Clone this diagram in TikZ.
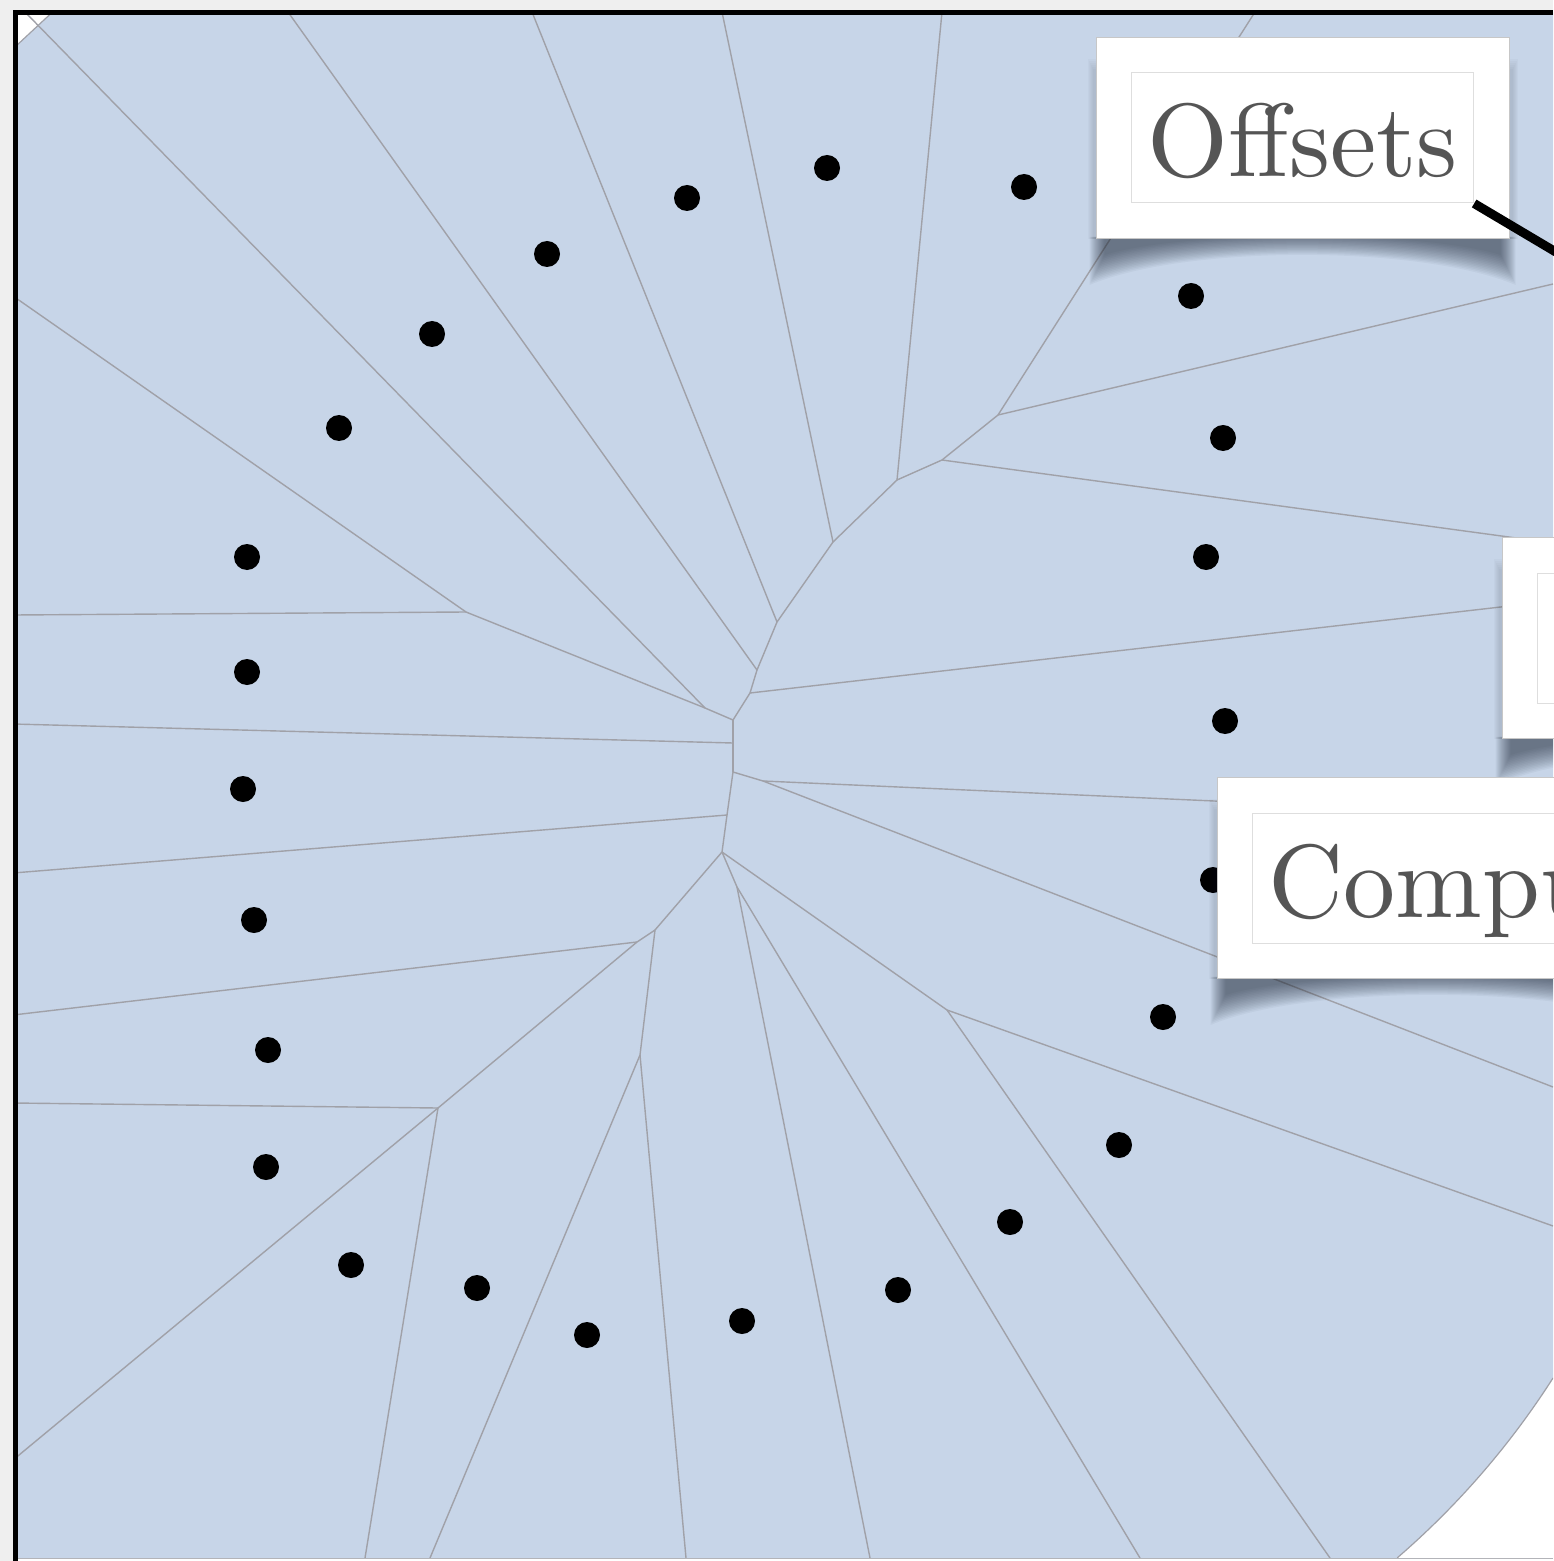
\documentclass[tikz,border=0pt]{standalone}
\usepackage{fontspec}
\usetikzlibrary{calc,fit}

\newfontfamily\tagfont{lmroman10-regular}[Extension=.otf]

\definecolor{pagegray}{RGB}{239,239,239}
\definecolor{cellblue}{RGB}{199,213,232}
\definecolor{edgegray}{RGB}{160,161,168}
\definecolor{tagink}{RGB}{85,85,85}
\definecolor{shadowink}{RGB}{25,35,50}
\definecolor{rimgray}{RGB}{222,222,222}

\pgfdeclarelayer{field}
\pgfdeclarelayer{shade}
\pgfdeclarelayer{card}
\pgfsetlayers{field,shade,card,main}

% soft "lifted" shadow under a card: faint sides plus curled bottom corners
\newcommand\liftedshadow[1]{%
  \foreach \d in {0,1,...,5}{%
    \fill[shadowink,opacity=0.025]
      ($(#1.north west)+(-8+\d,22+2*\d)$) rectangle ($(#1.south east)+(8-\d,0)$);
  }%
  \foreach \d in {0,1,...,15}{%
    \fill[shadowink,opacity=0.042]
      ($(#1.south west)+(-6+\d,-2)$) -- ($(#1.south east)+(6-\d,-2)$)
      -- ($(#1.south east)+(6-\d,46-2*\d)$)
      .. controls ($(#1.south east)+(-90,6-\d)$) and ($(#1.south west)+(90,6-\d)$) ..
      ($(#1.south west)+(-6+\d,46-2*\d)$) -- cycle;
  }}

\begin{document}
\begin{tikzpicture}[x=0.5pt,y=-0.5pt,
  edge/.style={draw=edgegray,line width=0.7pt},
  site/.style={circle,fill=black,inner sep=0pt,minimum size=13pt},
  tagbox/.style={font=\tagfont\fontsize{52}{62}\selectfont,text=tagink,fill=white,
    draw=rimgray,line width=0.5pt,inner xsep=8pt,inner ysep=0pt,
    text height=52pt,text depth=13pt,anchor=base west},
  cardbox/.style={fill=white,draw=black!22,line width=0.4pt,inner sep=17.5pt}]

\useasboundingbox (0,0) rectangle (1553,1561);

% ---------------- the Voronoi field ----------------
\begin{pgfonlayer}{field}
  \fill[pagegray] (0,0) rectangle (1553,1561);
  \begin{scope}
    \clip (15,12.5) rectangle (1553,1561);
    \fill[white] (15,12.5) rectangle (1553,1561);
    % cell area: clipped top-left corner, rounded off at the bottom right
    \fill[cellblue] (52,12.5) -- (1553,12.5) -- (1553,1378)
      arc[start angle=32.6,end angle=49.2,radius=824] -- (15,1558) -- (15,47) -- cycle;
    \draw[edgegray,line width=0.6pt] (52,12.5) -- (15,47);
    \draw[edgegray,line width=0.6pt] (1553,1378) arc[start angle=32.6,end angle=49.2,radius=824];

    % cell vertices
    \coordinate (A)  at (705,708);
    \coordinate (C1) at (733,720);
    \coordinate (G)  at (733,743);
    \coordinate (C2) at (750,693);
    \coordinate (C3) at (757,670);
    \coordinate (C4) at (777,622);
    \coordinate (C5) at (833,542);
    \coordinate (C6) at (897,480);
    \coordinate (C7) at (942,460);
    \coordinate (C8) at (998,415);
    \coordinate (D1) at (733,772);
    \coordinate (D2) at (763,781);
    \coordinate (D3) at (727,815);
    \coordinate (D4) at (722,852);
    \coordinate (E1) at (655,930);
    \coordinate (E2) at (637,942);
    \coordinate (E3) at (438,1108);
    \coordinate (E4) at (640,1055);
    \coordinate (F1) at (737,887);
    \coordinate (F2) at (947,1010);
    \coordinate (L1) at (466,612);
    % where the unbounded edges leave the window
    \coordinate (t1) at (25,12);
    \coordinate (t2) at (288,12);
    \coordinate (t3) at (532,12);
    \coordinate (t4) at (722,12);
    \coordinate (t5) at (942,12);
    \coordinate (t6) at (1255,12);
    \coordinate (l1) at (13,296);
    \coordinate (l2) at (13,615);
    \coordinate (l3) at (13,724);
    \coordinate (l4) at (13,873);
    \coordinate (l5) at (13,1015);
    \coordinate (l6) at (13,1103);
    \coordinate (l7) at (13,1460);
    \coordinate (b1) at (365,1558);
    \coordinate (b2) at (430,1558);
    \coordinate (b3) at (686,1558);
    \coordinate (b4) at (870,1558);
    \coordinate (b5) at (1140,1558);
    \coordinate (b6) at (1330,1558);
    \coordinate (r1) at (1553,284);
    \coordinate (r2) at (1553,543);
    \coordinate (r3) at (1553,601);
    \coordinate (r4) at (1553,816);
    \coordinate (r5) at (1553,1087);
    \coordinate (r6) at (1553,1226);

    \draw[edge] (t1) -- (A);
    \draw[edge] (L1) -- (A);
    \draw[edge] (A) -- (C1);
    \draw[edge] (L1) -- (l1);
    \draw[edge] (L1) -- (l2);
    \draw[edge] (G) -- (l3);
    \draw[edge] (C1) -- (G);
    \draw[edge] (G) -- (D1);
    \draw[edge] (C1) -- (C2);
    \draw[edge] (C2) -- (C3);
    \draw[edge] (C3) -- (C4);
    \draw[edge] (C4) -- (C5);
    \draw[edge] (C5) -- (C6);
    \draw[edge] (C6) -- (C7);
    \draw[edge] (C7) -- (C8);
    \draw[edge] (C3) -- (t2);
    \draw[edge] (C4) -- (t3);
    \draw[edge] (C5) -- (t4);
    \draw[edge] (C6) -- (t5);
    \draw[edge] (C8) -- (t6);
    \draw[edge] (C8) -- (r1);
    \draw[edge] (C7) -- (r2);
    \draw[edge] (C2) -- (r3);
    \draw[edge] (D1) -- (D2);
    \draw[edge] (D2) -- (r4);
    \draw[edge] (D2) -- (r5);
    \draw[edge] (D1) -- (D3);
    \draw[edge] (D3) -- (l4);
    \draw[edge] (D3) -- (D4);
    \draw[edge] (D4) -- (E1);
    \draw[edge] (D4) -- (F1);
    \draw[edge] (D4) -- (F2);
    \draw[edge] (E1) -- (E2);
    \draw[edge] (E1) -- (E4);
    \draw[edge] (E2) -- (l5);
    \draw[edge] (E2) -- (E3);
    \draw[edge] (E3) -- (l6);
    \draw[edge] (E3) -- (l7);
    \draw[edge] (E3) -- (b1);
    \draw[edge] (E4) -- (b2);
    \draw[edge] (E4) -- (b3);
    \draw[edge] (F1) -- (b4);
    \draw[edge] (F1) -- (b5);
    \draw[edge] (F2) -- (b6);
    \draw[edge] (F2) -- (r6);
  \end{scope}

  % lower rule and window frame
  \draw[edgegray!80,line width=0.6pt] (15,1558.5) -- (1553,1558.5);
  \draw[black,line width=2.5pt] (15,1561) -- (15,12.5) -- (1553,12.5);

  % sites
  \node[site] (s1)  at (827,168)  {};
  \node[site] (s2)  at (687,198)  {};
  \node[site] (s3)  at (547,254)  {};
  \node[site] (s4)  at (432,334)  {};
  \node[site] (s5)  at (339,428)  {};
  \node[site] (s6)  at (247,557)  {};
  \node[site] (s7)  at (247,672)  {};
  \node[site] (s8)  at (243,789)  {};
  \node[site] (s9)  at (254,920)  {};
  \node[site] (s10) at (268,1050) {};
  \node[site] (s11) at (266,1167) {};
  \node[site] (s12) at (351,1265) {};
  \node[site] (s13) at (477,1288) {};
  \node[site] (s14) at (587,1335) {};
  \node[site] (s15) at (742,1321) {};
  \node[site] (s16) at (898,1290) {};
  \node[site] (s17) at (1010,1222) {};
  \node[site] (s18) at (1119,1145) {};
  \node[site] (s19) at (1163,1017) {};
  \node[site] (s20) at (1213,880)  {};
  \node[site] (s21) at (1225,721)  {};
  \node[site] (s22) at (1206,557)  {};
  \node[site] (s23) at (1223,438)  {};
  \node[site] (s24) at (1191,296)  {};
  \node[site] (s25) at (1024,187)  {};
\end{pgfonlayer}

% ---------------- label cards ----------------
\node[tagbox] (offsets) at (1131,177) {Offsets};
\node[tagbox] (compu)   at (1252,917) {Compu};
\node[tagbox,minimum width=150pt] (sidetag) at (1537,677) {};

\begin{pgfonlayer}{card}
  \node[cardbox,fit=(offsets)] (offsetscard) {};
  \node[cardbox,fit=(compu)]   (compucard)   {};
  \node[cardbox,fit=(sidetag)] (sidecard)    {};
\end{pgfonlayer}

\begin{pgfonlayer}{shade}
  \begin{scope}
    \clip (0,0) rectangle (1553,1561);
    \liftedshadow{offsetscard}
    \liftedshadow{compucard}
    \liftedshadow{sidecard}
  \end{scope}
\end{pgfonlayer}

% leader line leaving the Offsets card
\coordinate (offtarget) at (1800,397);
\draw[black,line width=4.5pt] (offsets.south east) -- (offtarget);

\end{tikzpicture}
\end{document}
